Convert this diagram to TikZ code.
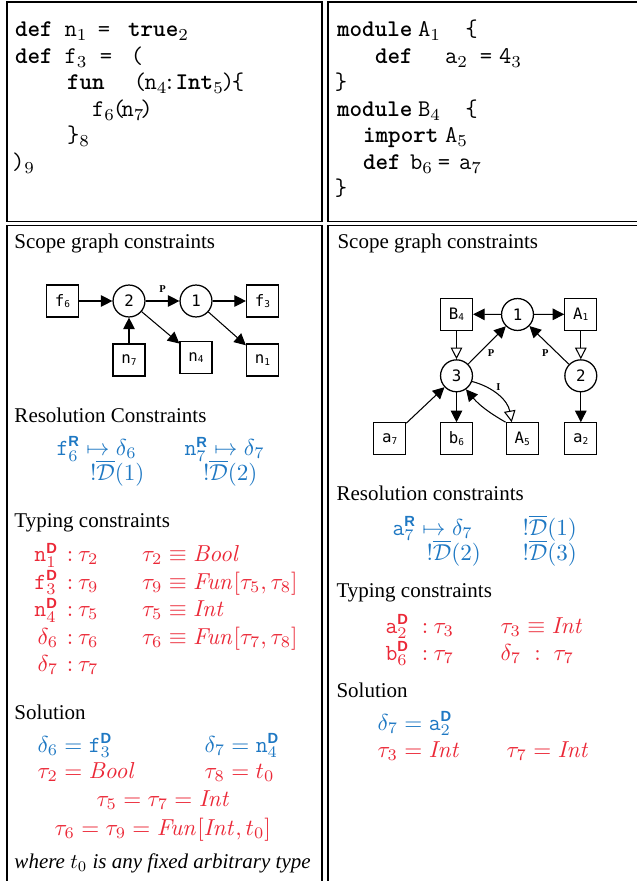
\RequirePackage{fix-cm}
\documentclass[tikz,border=0pt]{standalone}
\usepackage{amsmath}
\usepackage[no-math]{fontspec}
\setmainfont{Liberation Serif}
\setsansfont{Liberation Sans}
\newfontfamily\gfont{DejaVu Sans Mono}
\usetikzlibrary{arrows.meta}
\definecolor{cblue}{RGB}{30,120,195}
\definecolor{cred}{RGB}{235,40,55}
\newlength\px \setlength\px{0.47619pt}
\newcommand\putL[2]{\rlap{\hspace*{#1\px}#2}}
\newcommand\putC[2]{\rlap{\hspace*{#1\px}\makebox[0pt]{#2}}}
\newcommand\putR[2]{\rlap{\hspace*{#1\px}\llap{#2}}}
\newcommand\kw[1]{\textbf{#1}}
\newcommand\idt[1]{\texttt{#1}}
\newcommand\mkR{\text{\fontsize{7}{8}\selectfont\sffamily\bfseries R}}
\newcommand\mkD{\text{\fontsize{7}{8}\selectfont\sffamily\bfseries D}}
\newcommand\Dbar{\overline{\mathcal{D}}}
\newcommand\glab[2]{#1\raisebox{-0.8pt}{\fontsize{4.5}{5}\selectfont #2}\hspace{1.5pt}}
\tikzset{
  cellline/.style={line width=0.5pt, draw=black},
  txt/.style={anchor=base west, inner sep=0pt, outer sep=0pt},
  code/.style={txt, font=\fontsize{11.4}{13}\selectfont\ttfamily},
  sbox/.style={draw, line width=0.6pt, minimum size=15.2pt, inner sep=0pt, font=\gfont\fontsize{7.5}{8}\selectfont},
  scir/.style={draw, circle, line width=0.6pt, minimum size=15.2pt, inner sep=0pt, font=\gfont\fontsize{7.5}{8}\selectfont},
  arr/.style={line width=0.5pt, -{Triangle[length=5.5pt,width=5.5pt]}},
  oarr/.style={line width=0.5pt, -{Triangle[open,length=5.5pt,width=5.5pt]}},
  lbl/.style={font=\bfseries\fontsize{5}{6}\selectfont, inner sep=0pt},
  blu/.style={txt, text=cblue, font=\fontsize{11}{13}\selectfont},
  rd/.style={txt, text=cred, font=\fontsize{11}{13}\selectfont},
}
\begin{document}
\begin{tikzpicture}[x=0.47619pt, y=-0.47619pt]
\useasboundingbox (0,0) rectangle (637,881);
\clip (0,0) rectangle (637,881);
% cells
\draw[cellline] (7,2) rectangle (322,221.5);
\draw[cellline] (650,2) -- (328,2) -- (328,221.5) -- (650,221.5);
\draw[cellline] (7,895) -- (7,225.5) -- (322,225.5) -- (322,895);
\draw[cellline] (650,225.5) -- (328,225.5) -- (328,895);
% left code
\node[code] (lc1) at (0,37) {\putL{14}{\kw{def}}\putL{63.5}{n$_1$}\putC{103}{=}\putL{127}{\kw{true}$_2$}};
\node[code] (lc2) at (0,63.5) {\putL{14}{\kw{def}}\putL{63.5}{f$_3$}\putC{105}{=}\putC{136}{(}};
\node[code] (lc3) at (0,90) {\putL{66}{\kw{fun}}\putC{139}{(}\putL{143.5}{n$_4$}\putC{168.5}{:}\putL{174.5}{\kw{Int}$_5$}\putC{227}{)}\putC{237}{\{}};
\node[code] (lc4) at (0,116.5) {\putL{91}{f$_6$}\putC{118}{(}\putL{120.5}{n$_7$}\putC{145.5}{)}};
\node[code] (lc5) at (0,143) {\putL{66}{\}$_8$}};
\node[code] (lc6) at (0,169.5) {\putL{11}{)$_9$}};
% right code
\node[code] (rc1) at (0,37) {\putL{336}{\kw{module}}\putL{417}{A$_1$}\putC{470.5}{\{}};
\node[code] (rc2) at (0,63.5) {\putL{374}{\kw{def}}\putL{444}{a$_2$}\putC{485}{=}\putL{498}{4$_3$}};
\node[code] (rc3) at (0,90) {\putC{340}{\}}};
\node[code] (rc4) at (0,116.5) {\putL{336}{\kw{module}}\putL{417}{B$_4$}\putC{470.5}{\{}};
\node[code] (rc5) at (0,143) {\putL{362}{\kw{import}}\putL{444}{A$_5$}};
\node[code] (rc6) at (0,169.5) {\putL{362}{\kw{def}}\putL{409}{b$_6$}\putC{443}{=}\putL{458}{a$_7$}};
\node[code] (rc7) at (0,196) {\putC{340}{\}}};
% headings
\node[txt] (h1) at (14.5,248.5) {Scope graph constraints};
\node[txt] (h2) at (337.5,248.5) {Scope graph constraints};
\node[txt] (h3) at (14.5,422.5) {Resolution Constraints};
\node[txt] (h4) at (14.5,527) {Typing constraints};
\node[txt] (h5) at (14.5,719) {Solution};
\node[txt] (h6) at (14.5,868) {\textit{where $t_0$ is any fixed arbitrary type}};
\node[txt] (h7) at (336.5,500.5) {Resolution constraints};
\node[txt] (h8) at (336.5,597) {Typing constraints};
\node[txt] (h9) at (336.5,697.5) {Solution};
% left scope graph
\node[sbox] (f6) at (62.5,301) {\glab{f}{6}};
\node[scir] (s2) at (129,301) {2};
\node[scir] (s1) at (196,301) {1};
\node[sbox] (f3) at (262.5,301) {\glab{f}{3}};
\node[sbox] (n7) at (129,360) {\glab{n}{7}};
\node[sbox] (n4) at (196,357.5) {\glab{n}{4}};
\node[sbox] (n1) at (262.5,360) {\glab{n}{1}};
\draw[arr] (f6) -- (s2);
\draw[arr] (s2) -- node[lbl, above=3.8pt] (lp) {P} (s1);
\draw[arr] (s1) -- (f3);
\draw[arr] (n7) -- (s2);
\draw[arr] (s2) -- (n4);
\draw[arr] (s1) -- (n1);
% right scope graph
\node[sbox] (B4) at (456.5,314.2) {\glab{B}{4}};
\node[scir] (r1) at (517.5,314.5) {1};
\node[sbox] (A1) at (580.8,314.2) {\glab{A}{1}};
\node[scir] (r3) at (456.5,375.8) {3};
\node[scir] (r2) at (580.8,375.8) {2};
\node[sbox] (a7) at (389.7,438.8) {\glab{a}{7}};
\node[sbox] (b6) at (456.5,438.8) {\glab{b}{6}};
\node[sbox] (A5) at (522.2,438.8) {\glab{A}{5}};
\node[sbox] (a2) at (580.8,438.8) {\glab{a}{2}};
\draw[arr] (r1) -- (B4);
\draw[arr] (r1) -- (A1);
\draw[oarr] (B4) -- (r3);
\draw[oarr] (A1) -- (r2);
\draw[arr] (r3) -- node[lbl, pos=0.45, below right=1pt] (rp1) {P} (r1);
\draw[arr] (r2) -- node[lbl, pos=0.45, below left=1pt] (rp2) {P} (r1);
\draw[arr] (a7) -- (r3);
\draw[arr] (r3) -- (b6);
\draw[arr] (r2) -- (a2);
\draw[arr] (A5.north west) to[out=150, in=-50] (r3.-55);
\draw[oarr] (r3.-20) to[out=-15, in=100] node[lbl, pos=0.5, above=2.5pt] (ri) {I} ([xshift=-5pt]A5.north);
% left resolution
\node[blu] (rf) at (56.5,455.5) {$\idt{f}_6^{\mkR} \mapsto \delta_6$};
\node[blu] (rn) at (184.5,455.5) {$\idt{n}_7^{\mkR} \mapsto \delta_7$};
\node[blu] (rd1) at (90,480) {$!\Dbar(1)$};
\node[blu] (rd2) at (203,480) {$!\Dbar(2)$};
% left typing
\node[rd] (t1) at (0,561.5) {\putR{57}{$\idt{n}_1^{\mkD}$}\putC{69}{$:$}\putL{77}{$\tau_2$}\putL{141}{$\tau_2 \equiv \mathit{Bool}$}};
\node[rd] (t2) at (0,589) {\putR{57}{$\idt{f}_3^{\mkD}$}\putC{69}{$:$}\putL{77}{$\tau_9$}\putL{141}{$\tau_9 \equiv \mathit{Fun}[\tau_5,\tau_8]$}};
\node[rd] (t3) at (0,616.5) {\putR{57}{$\idt{n}_4^{\mkD}$}\putC{69}{$:$}\putL{77}{$\tau_5$}\putL{141}{$\tau_5 \equiv \mathit{Int}$}};
\node[rd] (t4) at (0,644) {\putR{57}{$\delta_6$}\putC{69}{$:$}\putL{77}{$\tau_6$}\putL{141}{$\tau_6 \equiv \mathit{Fun}[\tau_7,\tau_8]$}};
\node[rd] (t5) at (0,671.5) {\putR{57}{$\delta_7$}\putC{69}{$:$}\putL{77}{$\tau_7$}};
% left solution
\node[blu] (sl1) at (37.5,752) {$\delta_6 = \idt{f}_3^{\mkD}$};
\node[blu] (sl2) at (204.5,752) {$\delta_7 = \idt{n}_4^{\mkD}$};
\node[rd] (sl3) at (37.5,778.5) {$\tau_2 = \mathit{Bool}$};
\node[rd] (sl4) at (204.5,778.5) {$\tau_8 = t_0$};
\node[rd] (sl5) at (96.5,806.5) {$\tau_5 = \tau_7 = \mathit{Int}$};
\node[rd] (sl6) at (54.5,835) {$\tau_6 = \tau_9 = \mathit{Fun}[\mathit{Int},t_0]$};
% right resolution
\node[blu] (rr1) at (392.5,535) {$\idt{a}_7^{\mkR} \mapsto \delta_7$};
\node[blu] (rr2) at (522.5,535) {$!\Dbar(1)$};
\node[blu] (rr3) at (426.5,560) {$!\Dbar(2)$};
\node[blu] (rr4) at (522.5,560) {$!\Dbar(3)$};
% right typing
\node[rd] (rt1) at (0,633) {\putL{384.5}{$\idt{a}_2^{\mkD}$}\putC{424}{$:$}\putL{432.5}{$\tau_3$}\putL{499.5}{$\tau_3 \equiv \mathit{Int}$}};
\node[rd] (rt2) at (0,660) {\putL{384.5}{$\idt{b}_6^{\mkD}$}\putC{424}{$:$}\putL{432.5}{$\tau_7$}\putL{499.5}{$\delta_7$}\putC{536.5}{$:$}\putL{552.5}{$\tau_7$}};
% right solution
\node[blu] (rs1) at (377.5,730) {$\delta_7 = \idt{a}_2^{\mkD}$};
\node[rd] (rs2) at (377.5,757) {$\tau_3 = \mathit{Int}$};
\node[rd] (rs3) at (506.5,757) {$\tau_7 = \mathit{Int}$};
\end{tikzpicture}
\end{document}
